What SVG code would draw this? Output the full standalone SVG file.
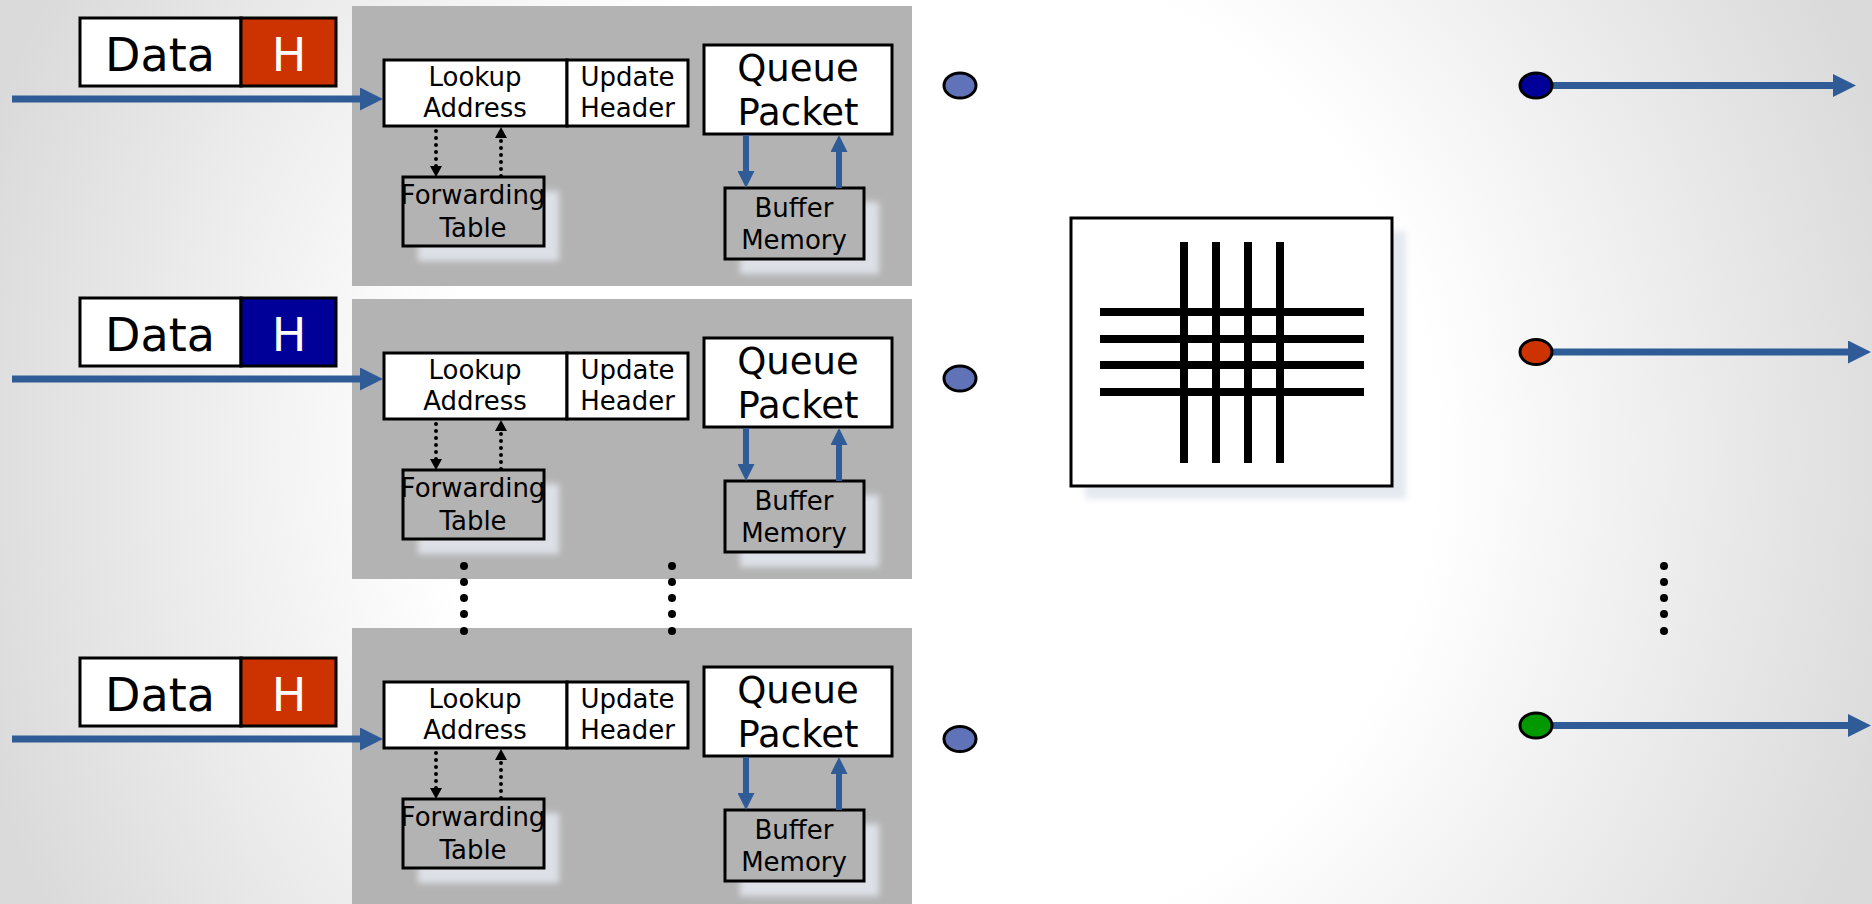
<svg xmlns="http://www.w3.org/2000/svg" width="1872" height="904" viewBox="0 0 1872 904">
<defs>
<radialGradient id="bg" gradientUnits="userSpaceOnUse" cx="936" cy="452" r="1000">
<stop offset="0.5" stop-color="#ffffff"/>
<stop offset="1" stop-color="#dadada"/>
</radialGradient>
<filter id="blur" x="-20%" y="-20%" width="140%" height="140%"><feGaussianBlur stdDeviation="3"/></filter>
<marker id="ah" markerUnits="userSpaceOnUse" markerWidth="23" markerHeight="23" viewBox="0 0 23 23" refX="1" refY="11.5" orient="auto"><path d="M0,0 L23,11.5 L0,23 z" fill="#2f5b97"/></marker>
<marker id="ahs" markerUnits="userSpaceOnUse" markerWidth="17" markerHeight="17" viewBox="0 0 17 17" refX="1" refY="8.5" orient="auto"><path d="M0,0 L17,8.5 L0,17 z" fill="#2f5b97"/></marker>
<marker id="ahd" markerUnits="userSpaceOnUse" markerWidth="11" markerHeight="12" viewBox="0 0 11 12" refX="1" refY="6" orient="auto"><path d="M0,0 L11,6 L0,12 z" fill="#000"/></marker>
</defs>
<style>
text{font-family:"DejaVu Sans","Liberation Sans",sans-serif;fill:#000;text-anchor:middle}
.panel{fill:#b3b3b3}
.wbox{fill:#fff;stroke:#000;stroke-width:3}
.gbox{fill:#b3b3b3;stroke:#000;stroke-width:3}
.shadow{fill:#dde1e7;filter:url(#blur)}
.big{font-size:46px}
.mid{font-size:37px}
.sm{font-size:26px}
.blue{stroke:#2f5b97;stroke-width:7;fill:none}
.bsm{stroke:#2f5b97;stroke-width:6;fill:none}
.dot{stroke:#000;stroke-width:4;stroke-dasharray:0 7;stroke-linecap:round;fill:none}
.inport{fill:#6173b8;stroke:#000;stroke-width:3}
.outport{stroke:#000;stroke-width:3}
.bar{fill:#000}
</style>
<rect x="0" y="0" width="1872" height="904" fill="url(#bg)"/>

<g id="linecard1">
<rect class="panel" x="352" y="6" width="560" height="280"/>
<g id="lc1-ftable"><rect class="shadow" x="418" y="191" width="141" height="70"/><rect class="gbox" x="403" y="177" width="141" height="69"/><text class="sm" x="473" y="204">Forwarding</text><text class="sm" x="473" y="237">Table</text></g>
<g id="lc1-buffer"><rect class="shadow" x="740" y="202" width="139" height="72"/><rect class="gbox" x="725" y="188" width="139" height="71"/><text class="sm" x="794" y="217">Buffer</text><text class="sm" x="794" y="249">Memory</text></g>
<g id="lc1-lookup"><rect class="wbox" x="384" y="60" width="183" height="66"/><text class="sm" x="475" y="86">Lookup</text><text class="sm" x="475" y="117">Address</text></g>
<g id="lc1-update"><rect class="wbox" x="567" y="60" width="121" height="66"/><text class="sm" x="627.5" y="86">Update</text><text class="sm" x="627.5" y="117">Header</text></g>
<g id="lc1-queue"><rect class="wbox" x="704" y="45" width="188" height="89"/><text class="mid" x="798" y="81">Queue</text><text class="mid" x="798" y="125">Packet</text></g>
</g>

<g id="linecard2">
<rect class="panel" x="352" y="299" width="560" height="280"/>
<g id="lc2-ftable"><rect class="shadow" x="418" y="484" width="141" height="70"/><rect class="gbox" x="403" y="470" width="141" height="69"/><text class="sm" x="473" y="497">Forwarding</text><text class="sm" x="473" y="530">Table</text></g>
<g id="lc2-buffer"><rect class="shadow" x="740" y="495" width="139" height="72"/><rect class="gbox" x="725" y="481" width="139" height="71"/><text class="sm" x="794" y="510">Buffer</text><text class="sm" x="794" y="542">Memory</text></g>
<g id="lc2-lookup"><rect class="wbox" x="384" y="353" width="183" height="66"/><text class="sm" x="475" y="379">Lookup</text><text class="sm" x="475" y="410">Address</text></g>
<g id="lc2-update"><rect class="wbox" x="567" y="353" width="121" height="66"/><text class="sm" x="627.5" y="379">Update</text><text class="sm" x="627.5" y="410">Header</text></g>
<g id="lc2-queue"><rect class="wbox" x="704" y="338" width="188" height="89"/><text class="mid" x="798" y="374">Queue</text><text class="mid" x="798" y="418">Packet</text></g>
</g>

<g id="linecard3">
<rect class="panel" x="352" y="628" width="560" height="280"/>
<g id="lc3-ftable"><rect class="shadow" x="418" y="813" width="141" height="70"/><rect class="gbox" x="403" y="799" width="141" height="69"/><text class="sm" x="473" y="826">Forwarding</text><text class="sm" x="473" y="859">Table</text></g>
<g id="lc3-buffer"><rect class="shadow" x="740" y="824" width="139" height="72"/><rect class="gbox" x="725" y="810" width="139" height="71"/><text class="sm" x="794" y="839">Buffer</text><text class="sm" x="794" y="871">Memory</text></g>
<g id="lc3-lookup"><rect class="wbox" x="384" y="682" width="183" height="66"/><text class="sm" x="475" y="708">Lookup</text><text class="sm" x="475" y="739">Address</text></g>
<g id="lc3-update"><rect class="wbox" x="567" y="682" width="121" height="66"/><text class="sm" x="627.5" y="708">Update</text><text class="sm" x="627.5" y="739">Header</text></g>
<g id="lc3-queue"><rect class="wbox" x="704" y="667" width="188" height="89"/><text class="mid" x="798" y="703">Queue</text><text class="mid" x="798" y="747">Packet</text></g>
</g>

<g id="packet1"><rect class="wbox" x="80" y="18" width="161" height="68"/><rect x="241" y="18" width="95" height="68" fill="#cc3300" stroke="#000" stroke-width="3"/><text class="big" x="160" y="71">Data</text><text class="big" x="289" y="71" style="fill:#fff">H</text></g>
<g id="packet2"><rect class="wbox" x="80" y="298" width="161" height="68"/><rect x="241" y="298" width="95" height="68" fill="#000099" stroke="#000" stroke-width="3"/><text class="big" x="160" y="351">Data</text><text class="big" x="289" y="351" style="fill:#fff">H</text></g>
<g id="packet3"><rect class="wbox" x="80" y="658" width="161" height="68"/><rect x="241" y="658" width="95" height="68" fill="#cc3300" stroke="#000" stroke-width="3"/><text class="big" x="160" y="711">Data</text><text class="big" x="289" y="711" style="fill:#fff">H</text></g>

<g id="switch-fabric">
<rect x="1085" y="231" width="321" height="268" fill="#e4e8f0" filter="url(#blur)"/>
<rect x="1071" y="218" width="321" height="268" fill="#fff" stroke="#000" stroke-width="3"/>
<rect class="bar" x="1100" y="308" width="264" height="8"/>
<rect class="bar" x="1100" y="335" width="264" height="8"/>
<rect class="bar" x="1100" y="361" width="264" height="8"/>
<rect class="bar" x="1100" y="388" width="264" height="8"/>
<rect class="bar" x="1180" y="242" width="8" height="221"/>
<rect class="bar" x="1212" y="242" width="8" height="221"/>
<rect class="bar" x="1244" y="242" width="8" height="221"/>
<rect class="bar" x="1276" y="242" width="8" height="221"/>
</g>

<g id="in-ports">
<ellipse class="inport" cx="960" cy="85.5" rx="16" ry="12.5"/>
<ellipse class="inport" cx="960" cy="378.5" rx="16" ry="12.5"/>
<ellipse class="inport" cx="960" cy="739" rx="16" ry="12.5"/>
</g>

<g id="ellipsis-dots" fill="#000">
<circle cx="464" cy="566" r="4"/><circle cx="464" cy="582" r="4"/><circle cx="464" cy="598" r="4"/><circle cx="464" cy="614" r="4"/><circle cx="464" cy="631" r="4"/>
<circle cx="672" cy="566" r="4"/><circle cx="672" cy="582" r="4"/><circle cx="672" cy="598" r="4"/><circle cx="672" cy="614" r="4"/><circle cx="672" cy="631" r="4"/>
<circle cx="1664" cy="566" r="4"/><circle cx="1664" cy="582" r="4"/><circle cx="1664" cy="598" r="4"/><circle cx="1664" cy="614" r="4"/><circle cx="1664" cy="631" r="4"/>
</g>

<g id="connectors">
<line class="blue" x1="12" y1="99" x2="361" y2="99" marker-end="url(#ah)"/>
<line class="blue" x1="12" y1="379" x2="361" y2="379" marker-end="url(#ah)"/>
<line class="blue" x1="12" y1="739" x2="361" y2="739" marker-end="url(#ah)"/>
<g id="lc1-links">
<line class="dot" x1="436" y1="131" x2="436" y2="167" marker-end="url(#ahd)"/>
<line class="dot" x1="501" y1="176" x2="501" y2="137" marker-end="url(#ahd)"/>
<line class="bsm" x1="746" y1="135" x2="746" y2="172" marker-end="url(#ahs)"/>
<line class="bsm" x1="839" y1="188" x2="839" y2="151" marker-end="url(#ahs)"/>
</g>
<g id="lc2-links" transform="translate(0,293)">
<line class="dot" x1="436" y1="131" x2="436" y2="167" marker-end="url(#ahd)"/>
<line class="dot" x1="501" y1="176" x2="501" y2="137" marker-end="url(#ahd)"/>
<line class="bsm" x1="746" y1="135" x2="746" y2="172" marker-end="url(#ahs)"/>
<line class="bsm" x1="839" y1="188" x2="839" y2="151" marker-end="url(#ahs)"/>
</g>
<g id="lc3-links" transform="translate(0,622)">
<line class="dot" x1="436" y1="131" x2="436" y2="167" marker-end="url(#ahd)"/>
<line class="dot" x1="501" y1="176" x2="501" y2="137" marker-end="url(#ahd)"/>
<line class="bsm" x1="746" y1="135" x2="746" y2="172" marker-end="url(#ahs)"/>
<line class="bsm" x1="839" y1="188" x2="839" y2="151" marker-end="url(#ahs)"/>
</g>
<line class="blue" x1="1550" y1="85.5" x2="1834" y2="85.5" marker-end="url(#ah)"/>
<line class="blue" x1="1550" y1="352" x2="1849" y2="352" marker-end="url(#ah)"/>
<line class="blue" x1="1550" y1="725.5" x2="1849" y2="725.5" marker-end="url(#ah)"/>
</g>

<g id="out-ports">
<ellipse class="outport" cx="1536" cy="85.5" rx="16" ry="12.5" fill="#000099"/>
<ellipse class="outport" cx="1536" cy="352" rx="16" ry="12.5" fill="#cc3300"/>
<ellipse class="outport" cx="1536" cy="725.5" rx="16" ry="12.5" fill="#009900"/>
</g>
</svg>
